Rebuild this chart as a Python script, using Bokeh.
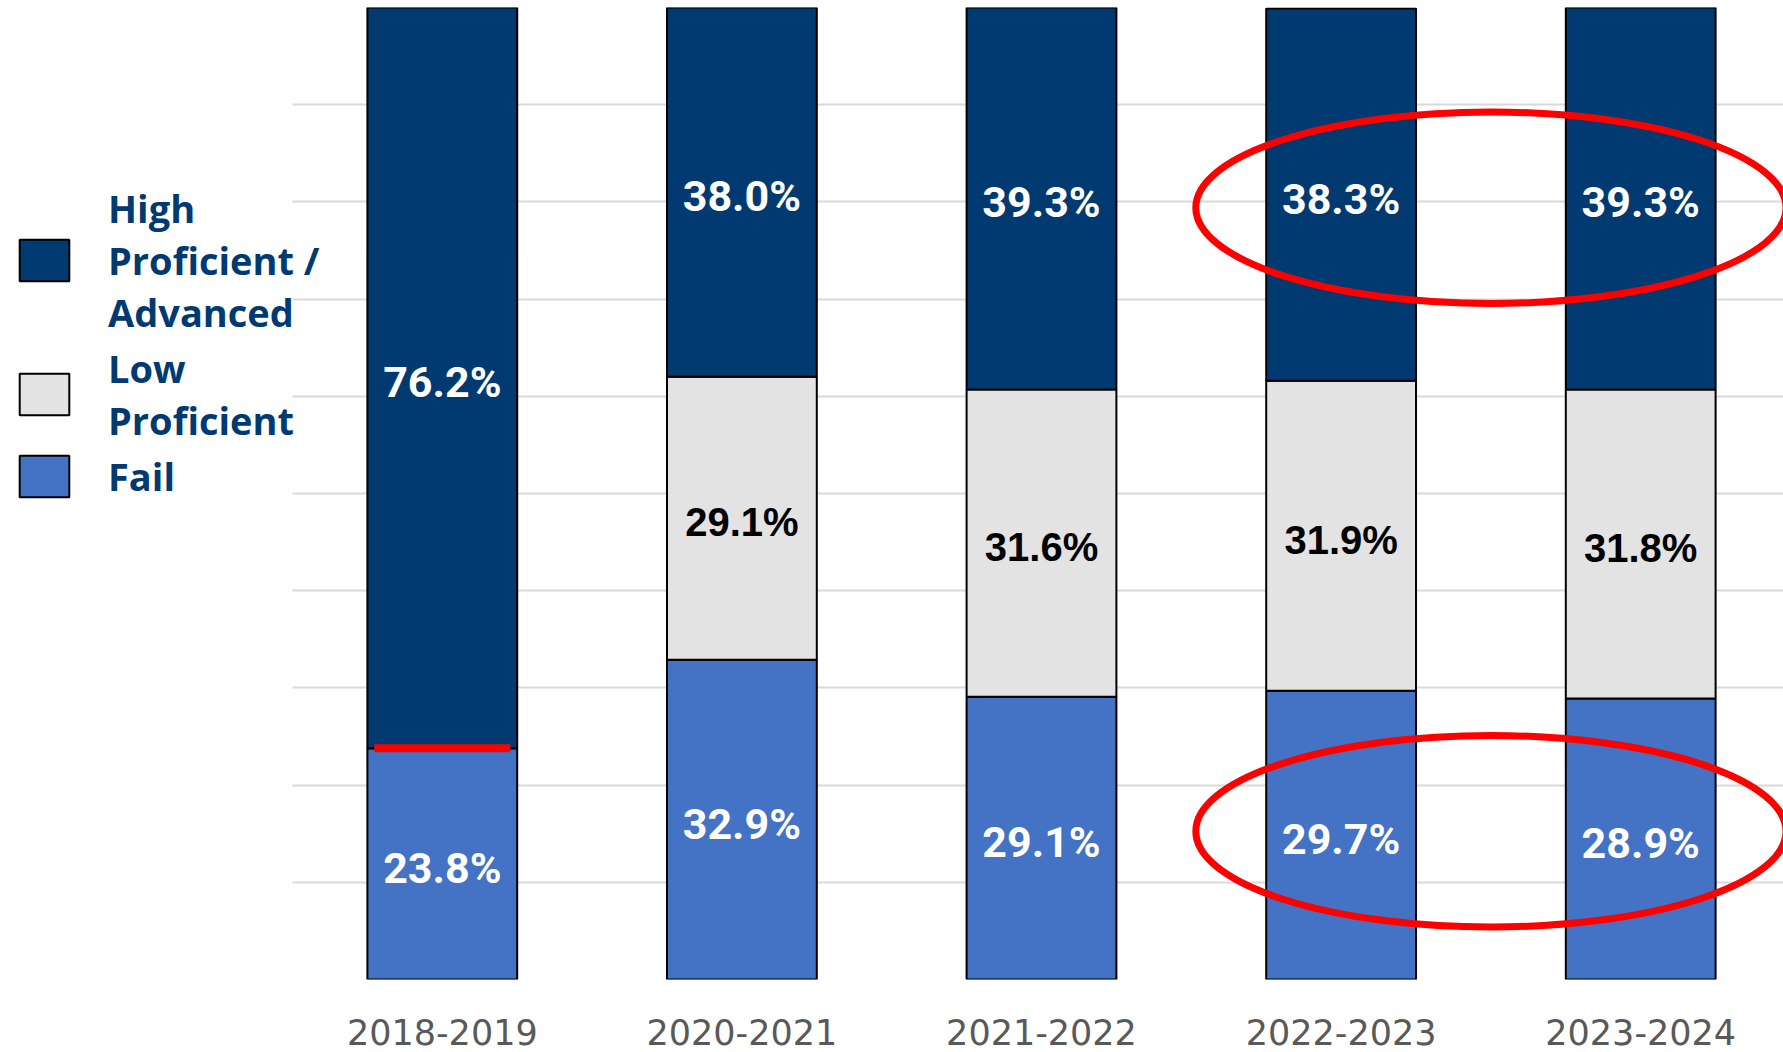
from bokeh.plotting import figure
from bokeh.models import (ColumnDataSource, Range1d, FixedTicker, Legend, LegendItem)
from bokeh.core.properties import value
from bokeh.embed import file_html
from bokeh.resources import INLINE

# ---- data ----
years = ["2018-2019", "2020-2021", "2021-2022", "2022-2023", "2023-2024"]
fail = [23.8, 32.9, 29.1, 29.7, 28.9]
low = [0.0, 29.1, 31.6, 31.9, 31.8]
high = [76.2, 38.0, 39.3, 38.3, 39.3]
series_names = ["High\nProficient /\nAdvanced", "Low\nProficient", "Fail"]
highlight_years = ["2022-2023", "2023-2024"]
marked_year = "2018-2019"

# ---- styling ----
NAVY = "#003A70"
GRAY = "#E3E3E3"
BLUE = "#4472C4"

xs = [i + 0.5 for i in range(len(years))]
src = ColumnDataSource(dict(x=xs, year=years, fail=fail, low=low, high=high))

X_START, X_END = -0.9746, 4.9766
p = figure(width=1783, height=1052, output_backend="svg", toolbar_location=None,
           x_range=Range1d(X_START, X_END), y_range=Range1d(0, 100),
           min_border_left=0, min_border_right=0, min_border_top=7,
           min_border_bottom=73)
p.outline_line_color = None
p.background_fill_color = "white"

rs = p.vbar_stack(["fail", "low", "high"], x="x", width=0.5, source=src,
                  fill_color=[BLUE, GRAY, NAVY], line_color="black", line_width=2)

# grid / axes
p.xgrid.visible = False
p.yaxis.visible = False
p.ygrid.ticker = FixedTicker(ticks=list(range(0, 101, 10)))
p.ygrid.grid_line_color = "#D9D9D9"
p.ygrid.grid_line_width = 2
p.ygrid.cross_bounds = (0, X_END)
p.xaxis.ticker = FixedTicker(ticks=xs)
p.xaxis.major_label_overrides = {x: y for x, y in zip(xs, years)}
p.xaxis.axis_line_color = None
p.xaxis.major_tick_line_color = None
p.xaxis.minor_tick_line_color = None
p.xaxis.major_tick_out = 0
p.xaxis.major_tick_in = 0
p.xaxis.major_label_standoff = 39
p.xaxis.major_label_text_font = "DejaVu Sans"
p.xaxis.major_label_text_font_size = "35px"
p.xaxis.major_label_text_color = "#595959"
p.xaxis.major_label_text_line_height = 0.8

# data labels
white_x, white_y, white_t = [], [], []
black_x, black_y, black_t = [], [], []
for x, f, l, h in zip(xs, fail, low, high):
    white_x.append(x); white_y.append(f / 2); white_t.append(f"{f:.1f}%")
    if l > 0:
        black_x.append(x); black_y.append(f + l / 2); black_t.append(f"{l:.1f}%")
    white_x.append(x); white_y.append(f + l + h / 2); white_t.append(f"{h:.1f}%")

p.text(x=white_x, y=white_y, text=white_t, text_align="center", text_baseline="middle",
       y_offset=4, text_color="white", text_font=value("Roboto"),
       text_font_style="bold", text_font_size="43px")
p.text(x=black_x, y=black_y, text=black_t, text_align="center", text_baseline="middle",
       y_offset=4, text_color="black", text_font=value("Liberation Sans"),
       text_font_style="bold", text_font_size="40px")

# red marker line on the 2018-2019 boundary
mi = years.index(marked_year)
p.segment(x0=[xs[mi] - 0.227], x1=[xs[mi] + 0.227], y0=[fail[mi]], y1=[fail[mi]],
          line_color="#FF0000", line_width=8)

# red ellipses around highlighted years
hi = [years.index(y) for y in highlight_years]
cx = sum(xs[i] for i in hi) / len(hi)
top_cy = sum(fail[i] + low[i] + high[i] / 2 for i in hi) / len(hi) - 1.15
bot_cy = sum(fail[i] / 2 for i in hi) / len(hi) + 0.6
p.ellipse(x=[cx, cx], y=[top_cy, bot_cy], width=1.97, height=19.7,
          fill_color=None, line_color="#FF0000", line_width=7)

# legend, left of the bars
items = [LegendItem(label=series_names[0], renderers=[rs[2]]),
         LegendItem(label=series_names[1], renderers=[rs[1]]),
         LegendItem(label=series_names[2], renderers=[rs[0]])]
legend = Legend(items=items, location=(13, 477), glyph_width=62, glyph_height=52,
                label_standoff=33, spacing=4, padding=0, margin=0,
                border_line_color=None, background_fill_alpha=0,
                label_text_font="Open Sans", label_text_font_style="bold",
                label_text_font_size="38px", label_text_color=NAVY,
                label_text_line_height=1.27)
p.add_layout(legend)

open("out.html", "w").write(file_html(p, INLINE))
